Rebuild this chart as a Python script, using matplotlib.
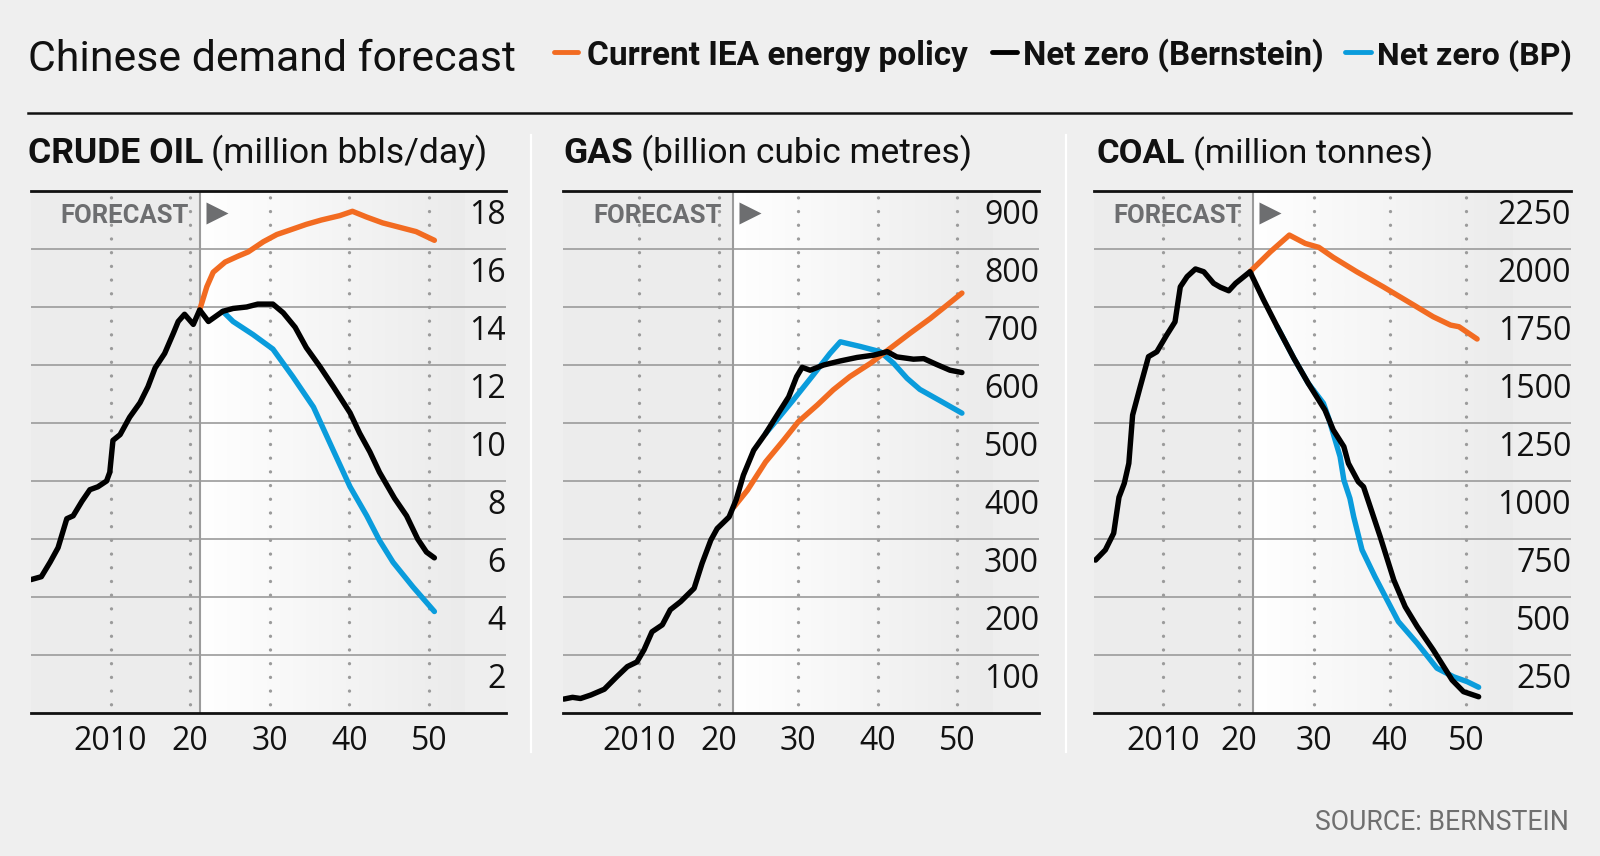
import matplotlib
matplotlib.use("Agg")
import matplotlib.pyplot as plt
import matplotlib.transforms as mtransforms
from matplotlib.colors import LinearSegmentedColormap
from matplotlib.lines import Line2D
import numpy as np

# ── canvas ────────────────────────────────────────────────────────────
W, H, DPI = 1600, 856, 100

C_ORANGE = "#f26b21"
C_BLACK = "#000000"
C_BLUE = "#0a9cdc"
C_GRID = "#9b9b9b"
C_BG = "#efefef"
C_PAST = "#ececec"
C_GRAY_TXT = "#6d6e70"

FONT = ["Roboto", "DejaVu Sans"]
NUM_FONT = ["Open Sans", "DejaVu Sans"]

# ── data ──────────────────────────────────────────────────────────────
OIL_BERN_YR = [2000.0, 2001.3, 2002.4, 2003.4, 2004.5, 2005.3, 2006.4, 2007.4, 2008.4,
               2009.5, 2009.9, 2010.3, 2011.2, 2012.4, 2013.7, 2014.7, 2015.6, 2016.8,
               2017.9, 2018.5, 2019.3, 2020.4, 2021.2, 2022.3, 2024.1, 2025.4, 2027.1,
               2028.5, 2030.4, 2031.7, 2033.2, 2034.6, 2036.3, 2038.0, 2040.1, 2041.3,
               2042.6, 2043.8, 2045.7, 2047.2, 2048.6, 2049.7, 2050.7]
OIL_BERN = [4.6, 4.7, 5.2, 5.7, 6.7, 6.8, 7.3, 7.7, 7.8,
            8.0, 8.3, 9.4, 9.6, 10.2, 10.7, 11.25, 11.9, 12.4,
            13.1, 13.5, 13.75, 13.4, 13.9, 13.5, 13.85, 13.95, 14.0,
            14.1, 14.1, 13.8, 13.3, 12.6, 11.95, 11.25, 10.35, 9.65,
            9.0, 8.3, 7.4, 6.8, 6.0, 5.55, 5.35]
OIL_IEA_YR = [2021.2, 2022.1, 2022.9, 2024.4, 2026.0, 2027.3, 2029.2, 2030.9, 2032.5,
              2034.6, 2036.5, 2038.8, 2040.4, 2042.2, 2044.2, 2046.3, 2048.4, 2050.7]
OIL_IEA = [13.9, 14.7, 15.2, 15.55, 15.75, 15.9, 16.25, 16.5, 16.65,
           16.85, 17.0, 17.15, 17.3, 17.1, 16.9, 16.75, 16.6, 16.3]
OIL_BP_YR = [2024.1, 2025.4, 2027.9, 2030.4, 2032.9, 2035.5, 2038.0, 2040.1, 2042.2,
             2043.8, 2045.5, 2048.0, 2050.7]
OIL_BP = [13.85, 13.5, 13.05, 12.55, 11.6, 10.55, 9.05, 7.8, 6.8,
          5.95, 5.2, 4.35, 3.5]

GAS_BERN_YR = [2000.5, 2001.6, 2002.6, 2003.9, 2005.6, 2007.2, 2008.5, 2009.7, 2010.6,
               2011.6, 2012.9, 2013.9, 2015.2, 2016.9, 2017.9, 2019.0, 2019.8, 2021.3,
               2022.2, 2023.1, 2024.4, 2025.9, 2027.5, 2028.8, 2029.8, 2030.5, 2031.5,
               2033.2, 2035.3, 2037.4, 2039.5, 2041.2, 2042.4, 2044.5, 2045.8, 2047.4,
               2049.1, 2050.6]
GAS_BERN = [24, 27, 25, 31, 41, 63, 80, 88, 109,
            140, 152, 178, 192, 215, 258, 298, 318, 338,
            368, 410, 453, 482, 517, 545, 580, 596, 591,
            600, 607, 613, 617, 623, 614, 610, 611, 601,
            591, 587]
GAS_IEA_YR = [2021.9, 2023.6, 2025.9, 2028.2, 2030.0, 2032.4, 2034.4, 2036.5, 2039.1,
              2041.6, 2044.1, 2046.6, 2048.7, 2050.6]
GAS_IEA = [355, 384, 433, 471, 502, 531, 557, 580, 603,
           629, 655, 680, 703, 724]
GAS_BP_YR = [2025.9, 2027.3, 2029.4, 2031.9, 2034.0, 2035.3, 2037.8, 2040.3, 2042.0,
             2043.7, 2045.3, 2047.9, 2050.6]
GAS_BP = [482, 505, 540, 583, 620, 640, 632, 623, 603,
          577, 558, 538, 517]

COAL_BERN_YR = [2001.1, 2002.4, 2003.5, 2004.2, 2004.9, 2005.5, 2006.0, 2007.0, 2008.1,
                2009.2, 2010.5, 2011.6, 2012.3, 2013.2, 2014.3, 2015.4, 2016.7, 2017.6,
                2018.7, 2019.6, 2021.5, 2023.3, 2025.1, 2027.3, 2029.2, 2031.4, 2032.5,
                2033.9, 2034.5, 2035.8, 2036.5, 2038.7, 2040.5, 2042.0, 2043.6, 2045.7,
                2048.2, 2049.7, 2051.7]
COAL_BERN = [659, 703, 775, 930, 990, 1076, 1284, 1406, 1536,
             1557, 1629, 1686, 1837, 1881, 1914, 1902, 1852, 1835,
             1820, 1852, 1902, 1780, 1665, 1529, 1421, 1306, 1220,
             1148, 1076, 997, 975, 760, 573, 458, 372, 272,
             142, 92, 70]
COAL_IEA_YR = [2021.5, 2024.2, 2026.7, 2028.8, 2030.6, 2032.5, 2035.6, 2039.1, 2043.1,
               2045.7, 2048.0, 2049.1, 2051.5]
COAL_IEA = [1902, 1988, 2060, 2024, 2007, 1964, 1902, 1837, 1759,
            1708, 1672, 1665, 1612]
COAL_BP_YR = [2025.1, 2027.3, 2029.2, 2031.2, 2031.9, 2033.4, 2033.9, 2034.7, 2035.2,
              2036.3, 2038.0, 2041.1, 2043.6, 2046.2, 2048.4, 2050.2, 2051.7]
COAL_BP = [1665, 1529, 1421, 1335, 1270, 1105, 1004, 925, 846,
           703, 588, 394, 300, 193, 156, 135, 111]

DECADES = [2010, 2020, 2030, 2040, 2050]
DECADE_LABELS = ["2010", "20", "30", "40", "50"]
OIL_TICKS = [2, 4, 6, 8, 10, 12, 14, 16, 18]
GAS_TICKS = [100, 200, 300, 400, 500, 600, 700, 800, 900]
COAL_TICKS = [250, 500, 750, 1000, 1250, 1500, 1750, 2000, 2250]

LEGEND_LABELS = ["Current IEA energy policy", "Net zero (Bernstein)", "Net zero (BP)"]
LEGEND_COLORS = [C_ORANGE, C_BLACK, C_BLUE]

# ── layout (pixels from top-left) ─────────────────────────────────────
AX_TOP, AX_BOTTOM = 191, 713
PANELS = [
    dict(name="CRUDE OIL", unit="(million bbls/day)", left=31, right=506, title_x=28, title_w=460,
         xlim=(2000.0, 2059.7), ticks=OIL_TICKS, forecast=2021.2, band=2054.5,
         series=[(OIL_BP_YR, OIL_BP, C_BLUE), (OIL_IEA_YR, OIL_IEA, C_ORANGE),
                 (OIL_BERN_YR, OIL_BERN, C_BLACK)]),
    dict(name="GAS", unit="(billion cubic metres)", left=563, right=1039, title_x=563, title_w=409,
         xlim=(2000.4, 2060.3), ticks=GAS_TICKS, forecast=2021.8, band=2054.5,
         series=[(GAS_BP_YR, GAS_BP, C_BLUE), (GAS_IEA_YR, GAS_IEA, C_ORANGE),
                 (GAS_BERN_YR, GAS_BERN, C_BLACK)]),
    dict(name="COAL", unit="(million tonnes)", left=1094, right=1571, title_x=1097, title_w=336,
         xlim=(2000.9, 2063.9), ticks=COAL_TICKS, forecast=2021.9, band=2056.3,
         series=[(COAL_BP_YR, COAL_BP, C_BLUE), (COAL_IEA_YR, COAL_IEA, C_ORANGE),
                 (COAL_BERN_YR, COAL_BERN, C_BLACK)]),
]

fig = plt.figure(figsize=(W / DPI, H / DPI), dpi=DPI, facecolor=C_BG)
renderer = fig.canvas.get_renderer()


def fx(x):
    return x / W


def fy(y):
    return 1 - y / H


def width_px(t):
    return t.get_window_extent(renderer).width


def fit(t, target, grow=1.2):
    """Scale a text's size so it spans *target* pixels (growth capped)."""
    w = width_px(t)
    s = min(target / w, grow)
    t.set_fontsize(t.get_fontsize() * s)
    return t


def hline_px(x0, x1, y, **kw):
    fig.add_artist(Line2D([fx(x0), fx(x1)], [fy(y), fy(y)], transform=fig.transFigure, **kw))


def vline_px(x, y0, y1, **kw):
    fig.add_artist(Line2D([fx(x), fx(x)], [fy(y0), fy(y1)], transform=fig.transFigure, **kw))


# ── header ────────────────────────────────────────────────────────────
t = fig.text(fx(28), fy(71), "Chinese demand forecast", fontsize=35, family=FONT,
             color="#111111", ha="left", va="baseline")
fit(t, 487)

leg_dash = [(551.7, 580.0), (990.0, 1019.5), (1343.0, 1373.0)]
leg_text = [(587.3, 970.0), (1023.0, 1325.0), (1376.7, 1571.0)]
for lbl, col, (d0, d1), (t0, t1) in zip(LEGEND_LABELS, LEGEND_COLORS, leg_dash, leg_text):
    hline_px(d0 + 2.4, d1 - 2.4, 52, color=col, lw=3.5, solid_capstyle="round")
    t = fig.text(fx(t0), fy(65), lbl, fontsize=20.5, family=FONT, fontweight="bold",
                 color="#111111", ha="left", va="baseline")
    fit(t, t1 - t0)

hline_px(28, 1571, 113, color="#111111", lw=1.8)

for sx in (531, 1065.7):
    vline_px(sx, 135, 752, color="white", lw=1.6)

t = fig.text(fx(1569), fy(830), "SOURCE: BERNSTEIN", fontsize=17.5, family=FONT,
             color="#6f6f6f", ha="right", va="baseline")
fit(t, 253)

# ── panels ────────────────────────────────────────────────────────────
grad_cmap = LinearSegmentedColormap.from_list("fc", ["#ffffff", "#ebebeb"])
gradient = np.linspace(0, 1, 256).reshape(1, -1)

for p in PANELS:
    ax = fig.add_axes([fx(p["left"]), fy(AX_BOTTOM), (p["right"] - p["left"]) / W,
                       (AX_BOTTOM - AX_TOP) / H])
    ax.set_facecolor(C_BG)
    ymax = p["ticks"][-1]
    x0, x1 = p["xlim"]
    fc = p["forecast"]

    # background: history flat grey, forecast white → grey, label band flat
    ax.axvspan(x0, fc, color=C_PAST, lw=0, zorder=0)
    ax.imshow(gradient, extent=(fc, p["band"], 0, ymax), aspect="auto", cmap=grad_cmap,
              interpolation="bicubic", zorder=0)
    ax.axvspan(p["band"], x1, color="#eeeeee", lw=0, zorder=0)

    for v in p["ticks"][:-1]:
        ax.axhline(v, color=C_GRID, lw=1.2, zorder=1)
    for yr in DECADES:
        ax.axvline(yr, color=C_GRID, lw=2.4, linestyle=(1.5, (0.01, 4.1)),
                   dash_capstyle="round", zorder=1)
    ax.axvline(fc, color=C_GRID, lw=1.5, zorder=1.5)

    for xs, ys, col in p["series"]:
        ax.plot(xs, ys, color=col, lw=3.9, solid_capstyle="round",
                solid_joinstyle="round", zorder=3)

    ax.set_xlim(x0, x1)
    ax.set_ylim(0, ymax)
    ax.set_xticks([])
    ax.set_yticks([])
    for side in ("left", "right"):
        ax.spines[side].set_visible(False)
    for side in ("top", "bottom"):
        ax.spines[side].set_color("#111111")
        ax.spines[side].set_linewidth(2.0)
        ax.spines[side].set_zorder(4)

    # y labels: right aligned, sitting under their gridline
    ytrans = mtransforms.blended_transform_factory(ax.transAxes, ax.transData) + \
        mtransforms.ScaledTranslation(0, -32.5 / DPI, fig.dpi_scale_trans)
    for v in p["ticks"]:
        ax.text(1.0, v, str(v), transform=ytrans, ha="right", va="baseline",
                fontsize=23, family=NUM_FONT, color="#111111", zorder=5, clip_on=False)

    xtrans = mtransforms.blended_transform_factory(ax.transData, ax.transAxes) + \
        mtransforms.ScaledTranslation(0, -37 / DPI, fig.dpi_scale_trans)
    for yr, lbl in zip(DECADES, DECADE_LABELS):
        ax.text(yr, 0, lbl, transform=xtrans, ha="center", va="baseline",
                fontsize=23, family=NUM_FONT, color="#111111", clip_on=False)

    # FORECAST tag
    ftrans = mtransforms.blended_transform_factory(ax.transData, ax.transAxes)
    t = ax.text(fc, 1, "FORECAST", transform=ftrans + mtransforms.ScaledTranslation(
        -11 / DPI, -32 / DPI, fig.dpi_scale_trans), ha="right", va="baseline",
        fontsize=20, family=FONT, fontweight="semibold", color=C_GRAY_TXT, zorder=5)
    fit(t, 128, grow=1.0)
    ax.plot([fc], [1], marker=">", ms=15.5, color=C_GRAY_TXT, mec="none", clip_on=False,
            transform=ftrans + mtransforms.ScaledTranslation(17 / DPI, -21.5 / DPI,
                                                             fig.dpi_scale_trans), zorder=5)

    # panel title: bold name + regular unit, scaled to the reference width
    base = 25
    tb = fig.text(fx(p["title_x"]), fy(163), p["name"], fontsize=base, family=FONT,
                  fontweight="bold", color="#111111", ha="left", va="baseline")
    tu = fig.text(0, fy(163), p["unit"], fontsize=base, family=FONT,
                  color="#111111", ha="left", va="baseline")
    gap = 0.22 * base / 0.72
    total = width_px(tb) + gap + width_px(tu)
    s = min(p["title_w"] / total, 1.08)
    tb.set_fontsize(base * s)
    tu.set_fontsize(base * s)
    gap *= s
    tu.set_x(fx(p["title_x"] + width_px(tb) + gap))

fig.savefig("out.png", dpi=DPI, facecolor=C_BG)
